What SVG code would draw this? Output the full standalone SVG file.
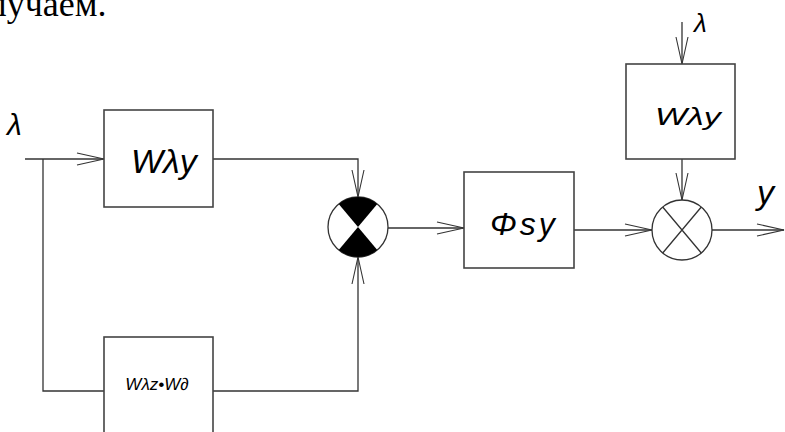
<svg xmlns="http://www.w3.org/2000/svg" width="785" height="432" viewBox="0 0 785 432">
<style>
.box{fill:#fff;stroke:#444;stroke-width:1.6}
.ln{fill:none;stroke:#333;stroke-width:1.3}
.lbl{font-family:"Liberation Sans",Arial,sans-serif;font-style:italic;fill:#000}
.ser{font-family:"Liberation Serif","Times New Roman",serif;fill:#000}
.circ{fill:#fff;stroke:#333;stroke-width:1.3}
</style>
<defs>
<marker id="arr" markerUnits="userSpaceOnUse" markerWidth="30" markerHeight="14" refX="27" refY="6" orient="auto" overflow="visible">
<path d="M0,0 L27,6 L0,12" fill="none" stroke="#333" stroke-width="1.1"/>
</marker>
</defs>
<rect width="785" height="432" fill="#fff"/>
<text class="ser" x="-48" y="16" font-size="36">получаем.</text>
<g id="connectors">
<path class="ln" d="M25,159 L104,159" marker-end="url(#arr)"/>
<path class="ln" d="M43,159 L43,391 L104,391"/>
<path class="ln" d="M213,159 L358,159 L358,197" marker-end="url(#arr)"/>
<path class="ln" d="M213,391 L358,391 L358,257" marker-end="url(#arr)"/>
<path class="ln" d="M388,228 L464,228" marker-end="url(#arr)"/>
<path class="ln" d="M574,230 L652,230" marker-end="url(#arr)"/>
<path class="ln" d="M682,22 L682,64" marker-end="url(#arr)"/>
<path class="ln" d="M682,159 L682,200" marker-end="url(#arr)"/>
<path class="ln" d="M712,230 L784,230" marker-end="url(#arr)"/>
</g>
<g id="label-lambda-in">
<text class="lbl" x="7" y="135" font-size="30">λ</text>
</g>
<g id="box-wly1">
<rect class="box" x="104" y="110" width="109" height="97"/>
<text class="lbl" x="131" y="173" font-size="34">Wλy</text>
</g>
<g id="box-wlz-wd">
<rect class="box" x="104" y="337" width="109" height="110"/>
<text class="lbl" x="157" y="390" font-size="17" text-anchor="middle">Wλz•W∂</text>
</g>
<g id="sum1">
<circle class="circ" cx="358" cy="227" r="30"/>
<path d="M358,227 L338.7,204 A30,30 0 0,1 377.3,204 Z" fill="#000"/>
<path d="M358,227 L377.3,250 A30,30 0 0,1 338.7,250 Z" fill="#000"/>
</g>
<g id="box-phisy">
<rect class="box" x="464" y="172" width="110" height="96"/>
<text class="lbl" x="490" y="235" font-size="32" letter-spacing="3">Φsy</text>
</g>
<g id="label-lambda-top">
<text class="lbl" x="694" y="32" font-size="26">λ</text>
</g>
<g id="box-wly2">
<rect class="box" x="626" y="64" width="109" height="95"/>
<text class="lbl" font-size="34" transform="translate(655,125) scale(1,0.72)">Wλy</text>
</g>
<g id="mult2">
<circle class="circ" cx="682" cy="230" r="30"/>
<path class="ln" d="M662.7,207 L701.3,253 M701.3,207 L662.7,253"/>
</g>
<g id="label-y">
<text class="lbl" x="757" y="204" font-size="34">y</text>
</g>
</svg>
